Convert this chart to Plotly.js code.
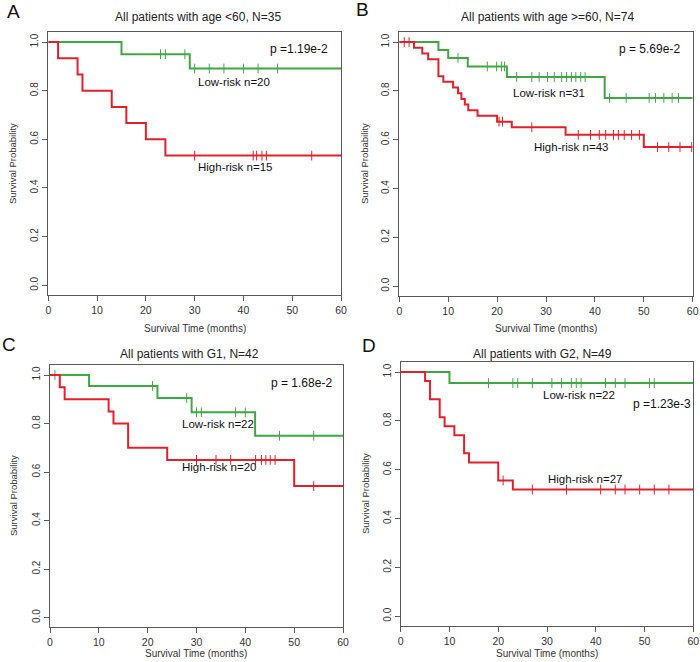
<!DOCTYPE html>
<html>
<head>
<meta charset="utf-8">
<script src="https://cdn.plot.ly/plotly-3.0.1.min.js"></script>
<style>html,body{margin:0;padding:0;background:#fff;}#chart{width:700px;height:662px;}</style>
</head>
<body>
<div id="chart"></div>
<script>
// ---- Data ----
// Panel A: age < 60
const A_low_times = [15, 29];
const A_low_surv = [0.95, 0.891];
const A_low_cens = [23, 24, 28, 30, 33, 36, 40, 43, 47];
const A_high_times = [2, 6, 7, 13, 16, 20, 24];
const A_high_surv = [0.933, 0.867, 0.8, 0.733, 0.667, 0.6, 0.533];
const A_high_cens = [30, 42, 42.7, 43.8, 44.7, 54];

// Panel B: age >= 60
const B_low_times = [8, 10, 14, 22, 42];
const B_low_surv = [0.968, 0.935, 0.9, 0.857, 0.771];
const B_low_cens = [12, 18, 19.9, 20.9, 21.5, 24, 27.1, 28.6, 30.3, 31.7, 33.2, 34.2, 35.2, 36.1, 37.1, 38, 43, 46.4, 51.1, 52.4, 54.1, 55.8, 57.1];
const B_high_times = [3, 4.7, 5.9, 8, 9, 11, 12, 12.7, 13.4, 14.1, 16, 20, 23, 34, 50];
const B_high_surv = [0.977, 0.953, 0.93, 0.86, 0.837, 0.814, 0.79, 0.767, 0.744, 0.721, 0.698, 0.674, 0.651, 0.62, 0.57];
const B_high_cens = [1, 2, 20.4, 21.1, 27.1, 36.6, 39.1, 40.9, 42.2, 43.8, 44.8, 46, 47.5, 49.1, 52.8, 55.1, 57.4, 59.8];

// Panel C: G1
const C_low_times = [8, 22, 29, 42];
const C_low_surv = [0.955, 0.905, 0.846, 0.75];
const C_low_cens = [1, 21, 28, 30, 31, 38, 40, 47, 54];
const C_high_times = [2, 3, 12, 13, 16, 24, 50];
const C_high_surv = [0.95, 0.9, 0.85, 0.8, 0.7, 0.65, 0.542];
const C_high_cens = [30, 34, 37, 42.1, 43.3, 44.2, 45.1, 46.1, 54];

// Panel D: G2
const D_low_times = [10];
const D_low_surv = [0.955];
const D_low_cens = [18, 23, 24, 27, 31, 33, 35, 36, 37, 42, 44, 46, 51, 52];
const D_high_times = [5, 6, 8, 9, 11, 13, 14, 20, 23];
const D_high_surv = [0.963, 0.889, 0.815, 0.778, 0.741, 0.667, 0.63, 0.556, 0.519];
const D_high_cens = [21, 27, 34, 41, 44, 46, 49, 52, 55];

const panelLetters = ["A", "B", "C", "D"];
const panelTitles = ["All patients with age <60, N=35", "All patients with age >=60, N=74",
                     "All patients with G1, N=42", "All patients with G2, N=49"];
const pValues = ["p =1.19e-2", "p = 5.69e-2", "p = 1.68e-2", "p =1.23e-3"];
const lowLabels = ["Low-risk n=20", "Low-risk n=31", "Low-risk n=22", "Low-risk n=22"];
const highLabels = ["High-risk n=15", "High-risk n=43", "High-risk n=20", "High-risk n=27"];
const xTicks = [0, 10, 20, 30, 40, 50, 60];
const yTicks = [0, 0.2, 0.4, 0.6, 0.8, 1.0];
const yTickText = ["0.0", "0.2", "0.4", "0.6", "0.8", "1.0"];

// ---- Styling ----
const GREEN = "#3FA843";
const RED = "#E3202A";
const AXC = "#5a5a5a";
const FONT = "Liberation Sans, Arial, sans-serif";
const W = 700, H = 662;
const PX = x => x / W;
const PY = y => 1 - y / H;

const panels = [
  {low: [A_low_times, A_low_surv, A_low_cens], high: [A_high_times, A_high_surv, A_high_cens],
   box: [48.3, 341, 32.3, 295], letter: [13, 12], title: [198, 17], ytitle: [13, 164], xtitle: [195, 328],
   p: [51.3, 0.97], lowPos: [38.0, 0.835], highPos: [38.2, 0.486]},
  {low: [B_low_times, B_low_surv, B_low_cens], high: [B_high_times, B_high_surv, B_high_cens],
   box: [399.3, 692.7, 32.3, 296], letter: [362, 10], title: [547, 17], ytitle: [365, 164], xtitle: [546, 328],
   p: [51.1, 0.97], lowPos: [30.6, 0.79], highPos: [35.1, 0.569]},
  {low: [C_low_times, C_low_surv, C_low_cens], high: [C_high_times, C_high_surv, C_high_cens],
   box: [50, 343, 365.3, 627.3], letter: [9, 344], title: [190, 354], ytitle: [13, 496], xtitle: [196, 653],
   p: [51.4, 0.968], lowPos: [34.4, 0.796], highPos: [34.6, 0.62]},
  {low: [D_low_times, D_low_surv, D_low_cens], high: [D_high_times, D_high_surv, D_high_cens],
   box: [400.7, 693.3, 362.3, 626], letter: [369, 345], title: [542, 354], ytitle: [365, 494], xtitle: [547, 653],
   p: [53.6, 0.87], lowPos: [36.6, 0.907], highPos: [37.8, 0.562]}
];

function stepXY(times, surv) {
  return {x: [0].concat(times, [60]), y: [1].concat(surv, [surv[surv.length - 1]])};
}
function survAt(times, surv, t) {
  let s = 1;
  for (let i = 0; i < times.length; i++) if (times[i] <= t) s = surv[i];
  return s;
}

const data = [];
const layout = {
  width: W, height: H, margin: {l: 0, r: 0, t: 0, b: 0},
  paper_bgcolor: "#fff", plot_bgcolor: "#fff", showlegend: false,
  font: {family: FONT, color: "#222"}, annotations: []
};

panels.forEach((p, i) => {
  const n = i === 0 ? "" : String(i + 1);
  const xa = "x" + n, ya = "y" + n;
  // curves: green first, red on top
  [[p.low, GREEN], [p.high, RED]].forEach(([c, col]) => {
    const st = stepXY(c[0], c[1]);
    data.push({type: "scatter", mode: "lines", x: st.x, y: st.y, xaxis: xa, yaxis: ya,
      line: {shape: "hv", color: col, width: 2}, hoverinfo: "skip"});
    data.push({type: "scatter", mode: "markers", x: c[2], y: c[2].map(t => survAt(c[0], c[1], t)),
      xaxis: xa, yaxis: ya, marker: {symbol: "line-ns-open", size: 7, color: col, line: {color: col, width: 1}},
      hoverinfo: "skip"});
  });
  const [x0, x1, yt, yb] = p.box;
  layout["xaxis" + n] = {
    domain: [PX(x0), PX(x1)], anchor: ya, range: [0, 60], tickvals: xTicks, ticks: "outside",
    ticklen: 5, tickcolor: AXC, showline: true, linecolor: AXC, linewidth: 1, mirror: true,
    showgrid: false, zeroline: false, tickfont: {size: 10.5, color: "#333", family: FONT}
  };
  layout["yaxis" + n] = {
    domain: [PY(yb), PY(yt)], anchor: xa, range: [-0.04, 1.04], tickvals: yTicks, ticktext: yTickText,
    ticks: "outside", ticklen: 5, tickcolor: AXC, showline: true, linecolor: AXC, linewidth: 1, mirror: true,
    showgrid: false, zeroline: false, tickangle: -90, tickfont: {size: 10, color: "#333", family: FONT}
  };
  const ann = layout.annotations;
  ann.push({xref: "paper", yref: "paper", x: PX(p.letter[0]), y: PY(p.letter[1]), text: panelLetters[i],
    showarrow: false, xanchor: "center", yanchor: "middle", font: {size: 19, color: "#111"}});
  ann.push({xref: "paper", yref: "paper", x: PX(p.title[0]), y: PY(p.title[1]), text: panelTitles[i],
    showarrow: false, xanchor: "center", yanchor: "middle", font: {size: 12, color: "#222"}});
  ann.push({xref: "paper", yref: "paper", x: PX(p.ytitle[0]), y: PY(p.ytitle[1]), text: "Survival Probability",
    textangle: -90, showarrow: false, xanchor: "center", yanchor: "middle", font: {size: 9.5, color: "#333"}});
  ann.push({xref: "paper", yref: "paper", x: PX(p.xtitle[0]), y: PY(p.xtitle[1]), text: "Survival Time (months)",
    showarrow: false, xanchor: "center", yanchor: "middle", font: {size: 10, color: "#333"}});
  ann.push({xref: xa, yref: ya, x: p.p[0], y: p.p[1], text: pValues[i], showarrow: false,
    xanchor: "center", yanchor: "middle", font: {size: 12, color: "#111"}});
  ann.push({xref: xa, yref: ya, x: p.lowPos[0], y: p.lowPos[1], text: lowLabels[i], showarrow: false,
    xanchor: "center", yanchor: "middle", font: {size: 11.5, color: "#111"}});
  ann.push({xref: xa, yref: ya, x: p.highPos[0], y: p.highPos[1], text: highLabels[i], showarrow: false,
    xanchor: "center", yanchor: "middle", font: {size: 11.5, color: "#111"}});
});

Plotly.newPlot("chart", data, layout, {staticPlot: true, displayModeBar: false});
</script>
</body>
</html>
